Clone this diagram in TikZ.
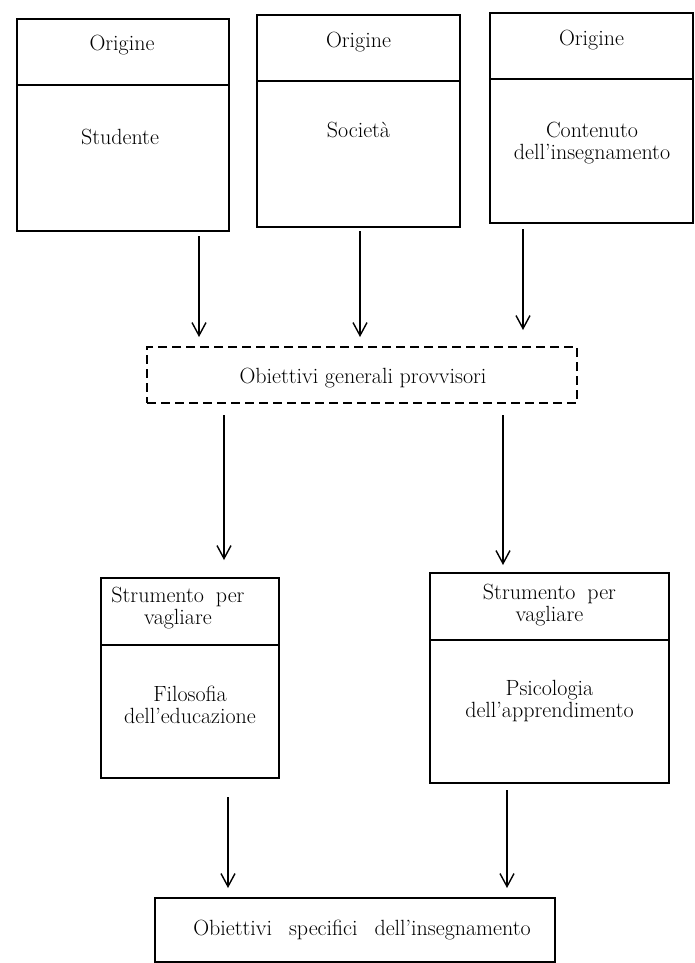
\documentclass[tikz,border=0pt]{standalone}
\usetikzlibrary{arrows.meta}
\newcommand\spacewide{\spaceskip 12pt\relax}
\newcommand\spacewider{\spaceskip 17pt\relax}

\begin{document}
\begin{tikzpicture}[x=1pt, y=-1pt, font=\fontsize{22}{26}\selectfont,
    every node/.style={outer sep=0pt, inner sep=0pt, align=center},
    box/.style={draw, line width=1.5pt},
    dashbox/.style={draw, line width=1.5pt, dash pattern=on 9pt off 5pt},
    arr/.style={-{Straight Barb[length=13pt, width=14pt, line width=1.4pt]}, line width=1.4pt}]
        \useasboundingbox (0,0) rectangle (695,963);
        % x of the arrows
        \coordinate (a1) at (199,0);
        \coordinate (a2) at (360,0);
        \coordinate (a3) at (523,0);
        \coordinate (d1) at (224,0);
        \coordinate (d2) at (503,0);
        \coordinate (b1) at (228,0);
        \coordinate (b2) at (507,0);
        % origins
        \node[box, minimum width=212pt, minimum height=66pt] (h1) at (123, 52) {};
        \node[box, minimum width=212pt, minimum height=146pt] (s1) at (123, 158) {};
        \node[box, minimum width=203pt, minimum height=66pt] (h2) at (358.5, 48) {};
        \node[box, minimum width=203pt, minimum height=146pt] (s2) at (358.5, 154) {};
        \node[box, minimum width=203pt, minimum height=66pt] (h3) at (591.5, 46) {};
        \node[box, minimum width=203pt, minimum height=144pt] (s3) at (591.5, 151) {};
        \node (th1) at (122, 45) {Origine};
        \node (ts1) at (120, 137) {Studente};
        \node (th2) at (358.5, 42) {Origine};
        \node (ts2) at (358.5, 130) {Società};
        \node (th3) at (591.5, 40) {Origine};
        \node (ts3) at (592, 143) {Contenuto\\[-4pt]dell'insegnamento};
        % provisional objectives
        \node[dashbox, minimum width=430pt, minimum height=56pt] (prov) at (362, 375) {};
        \node (tprov) at (363, 378) {Obiettivi generali provvisori};
        % screens
        \node[box, minimum width=178pt, minimum height=67pt] (hf) at (190, 611.5) {};
        \node[box, minimum width=178pt, minimum height=133pt] (f) at (190, 711.5) {};
        \node[box, minimum width=239pt, minimum height=67pt] (hp) at (549.5, 606.5) {};
        \node[box, minimum width=239pt, minimum height=143pt] (p) at (549.5, 711.5) {};
        \node (thf) at (178, 608) {\spacewide Strumento per\\[-4pt]vagliare};
        \node (tf) at (190, 705) {Filosofia\\[-4pt]dell'educazione};
        \node (thp) at (549.5, 605) {\spacewide Strumento per\\[-4pt]vagliare};
        \node (tp) at (549.5, 701) {Psicologia\\[-4pt]dell'apprendimento};
        % specific objectives
        \node[box, minimum width=400pt, minimum height=64pt] (spec) at (355, 930) {};
        \node (tspec) at (362, 930) {\spacewider Obiettivi specifici dell'insegnamento};
        % arrows
        \draw[arr, shorten <=5pt, shorten >=10pt] (s1.south -| a1) -- (prov.north -| a1);
        \draw[arr, shorten <=4pt, shorten >=10pt] (s2.south -| a2) -- (prov.north -| a2);
        \draw[arr, shorten <=6pt, shorten >=17pt] (s3.south -| a3) -- (prov.north -| a3);
        \draw[arr, shorten <=12pt, shorten >=18pt] (prov.south -| d1) -- (hf.north -| d1);
        \draw[arr, shorten <=12pt, shorten >=8pt] (prov.south -| d2) -- (hp.north -| d2);
        \draw[arr, shorten <=19pt, shorten >=10pt] (f.south -| b1) -- (spec.north -| b1);
        \draw[arr, shorten <=7pt, shorten >=10pt] (p.south -| b2) -- (spec.north -| b2);
    \end{tikzpicture}
\end{document}
